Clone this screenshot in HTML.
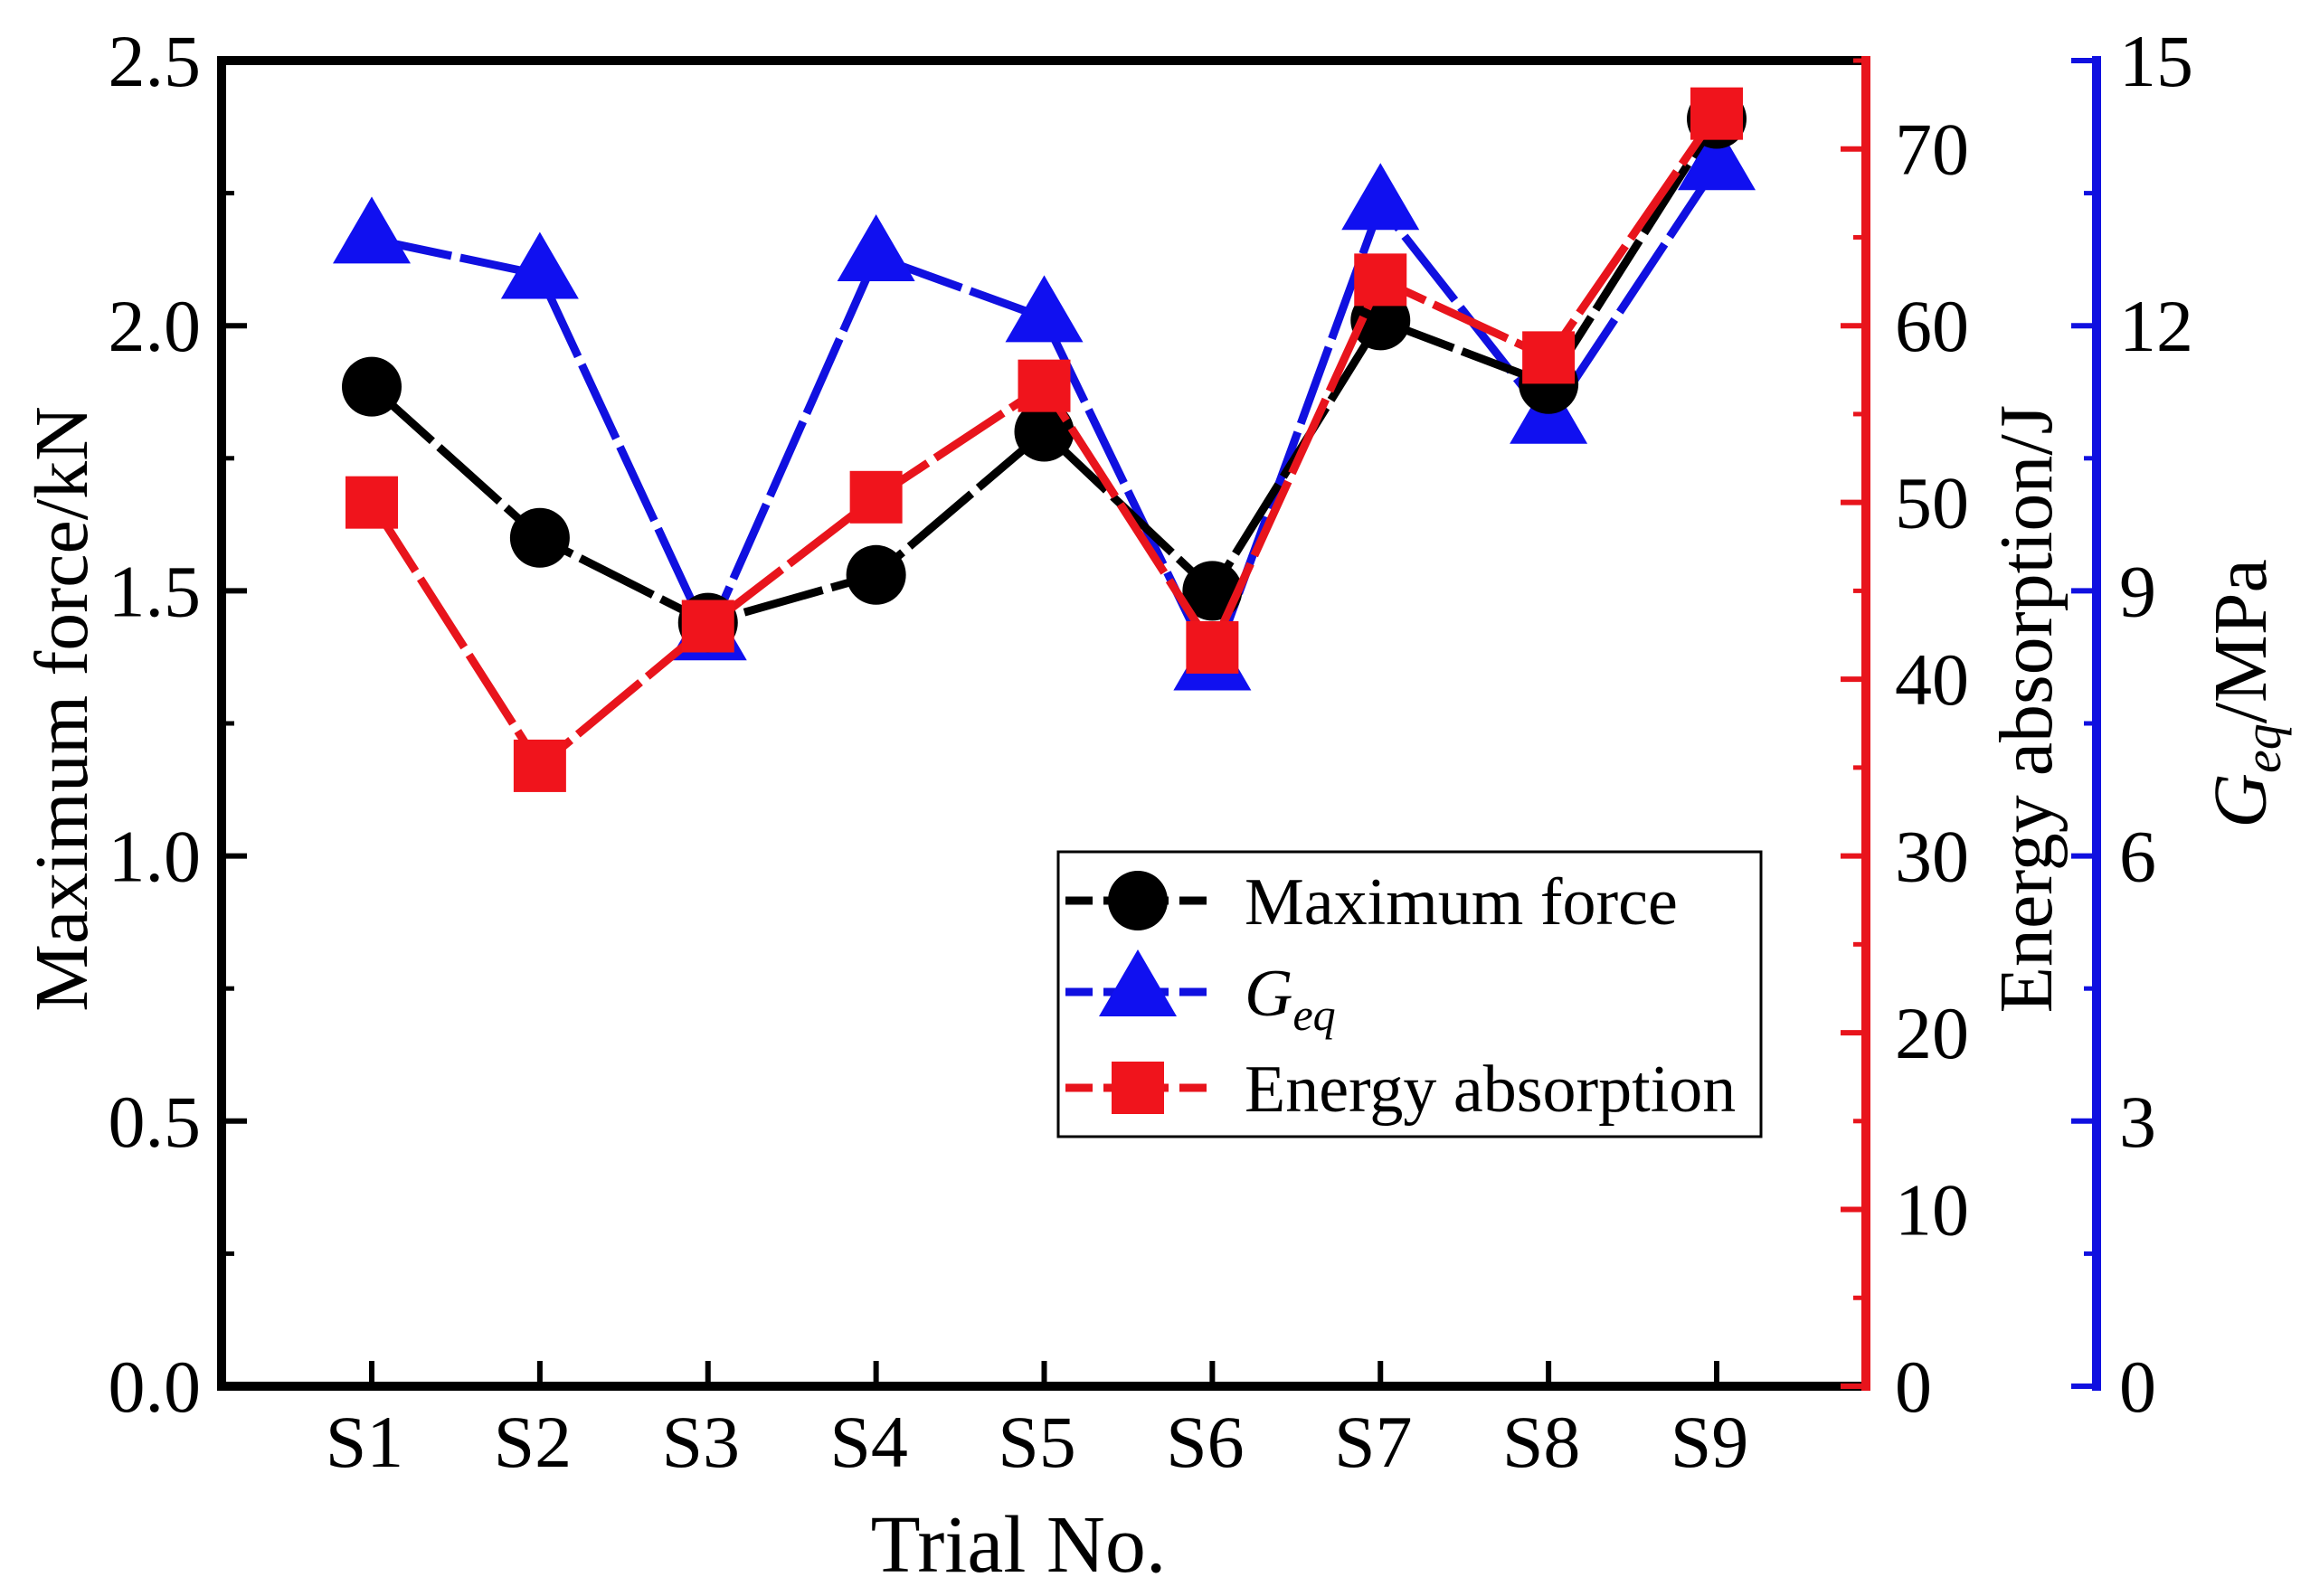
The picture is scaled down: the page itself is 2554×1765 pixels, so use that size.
<!DOCTYPE html>
<html><head><meta charset="utf-8"><style>
html,body{margin:0;padding:0;background:#fff;}
svg{display:block;font-family:"Liberation Serif",serif;}
</style></head><body>
<svg id="chart" width="2554" height="1765" viewBox="0 0 2554 1765" xmlns="http://www.w3.org/2000/svg">
<g id="axes"></g>
<g id="series"></g>
<g id="legend"></g>
</svg>
<script>
const categories = ["S1","S2","S3","S4","S5","S6","S7","S8","S9"];
const maxForce = [1.885,1.60,1.44,1.53,1.80,1.50,2.01,1.89,2.39];
const energy = [50.0,35.1,43.0,50.3,56.6,41.8,62.6,58.2,72.0];
const geq = [12.98,12.58,8.49,12.78,12.09,8.15,13.36,10.94,13.81];
const leftTicks = [0,0.5,1.0,1.5,2.0,2.5];
const redTicks = [0,10,20,30,40,50,60,70];
const blueTicks = [0,3,6,9,12,15];

const NS="http://www.w3.org/2000/svg";
const L=245,R=2063,T=67,B=1533,BX=2318;
const xS=i=>411+i*(1898-411)/8;
const yL=v=>B-(v/2.5)*(B-T);
const yR=v=>B-(v/75)*(B-T);
const yB=v=>B-(v/15)*(B-T);
function mk(parent,tag,attrs,text){const e=document.createElementNS(NS,tag);for(const k in attrs)e.setAttribute(k,attrs[k]);if(text!==undefined)e.textContent=text;parent.appendChild(e);return e;}
const ax=document.getElementById('axes');
let e;
e=mk(ax,'line',{x1:L,y1:T,x2:R,y2:T,stroke:'#000','stroke-width':10});

e=mk(ax,'line',{x1:L,y1:T-5,x2:L,y2:B+5,stroke:'#000','stroke-width':10});

e=mk(ax,'line',{x1:L-5,y1:B,x2:R,y2:B,stroke:'#000','stroke-width':10});

e=mk(ax,'line',{x1:R,y1:T-5,x2:R,y2:B+5,stroke:'#e8141c','stroke-width':10});

e=mk(ax,'line',{x1:BX,y1:T-5,x2:BX,y2:B+5,stroke:'#1010e0','stroke-width':10});

leftTicks.forEach((v,i)=>{
  let y=yL(v);
  mk(ax,'line',{x1:L,y1:y,x2:L+28,y2:y,stroke:'#000','stroke-width':6});
  if(i<leftTicks.length-1){let ym=yL(v+0.25);mk(ax,'line',{x1:L,y1:ym,x2:L+14,y2:ym,stroke:'#000','stroke-width':5});}
  let t=mk(ax,'text',{x:222,y:y+28,'font-size':82,'text-anchor':'end'},v.toFixed(1));
  
});
redTicks.forEach(v=>{
  let y=yR(v);
  mk(ax,'line',{x1:R-28,y1:y,x2:R,y2:y,stroke:'#e8141c','stroke-width':6});
  let ym=yR(v+5);mk(ax,'line',{x1:R-14,y1:ym,x2:R,y2:ym,stroke:'#e8141c','stroke-width':5});
  let t=mk(ax,'text',{x:2095,y:y+28,'font-size':82},String(v));
  
});
blueTicks.forEach((v,i)=>{
  let y=yB(v);
  mk(ax,'line',{x1:BX-28,y1:y,x2:BX,y2:y,stroke:'#1010e0','stroke-width':6});
  if(i<blueTicks.length-1){let ym=yB(v+1.5);mk(ax,'line',{x1:BX-14,y1:ym,x2:BX,y2:ym,stroke:'#1010e0','stroke-width':5});}
  let t=mk(ax,'text',{x:2343,y:y+28,'font-size':82},String(v));
  
});
categories.forEach((c,i)=>{
  let x=xS(i);
  mk(ax,'line',{x1:x,y1:B,x2:x,y2:B-28,stroke:'#000','stroke-width':6});
  let t=mk(ax,'text',{x:x-8,y:1622,'font-size':82,'text-anchor':'middle'},c);
  
});
e=mk(ax,'text',{x:1126,y:1738,'font-size':90,'text-anchor':'middle'},'Trial No.');

e=mk(ax,'text',{x:0,y:0,'font-size':84,'text-anchor':'middle',transform:'translate(96,784) rotate(-90)'},'Maximum force/kN');

e=mk(ax,'text',{x:0,y:0,'font-size':84,'text-anchor':'middle',transform:'translate(2268,784) rotate(-90)'},'Energy absorption/J');

e=mk(ax,'text',{x:0,y:0,'font-size':84,'text-anchor':'middle',transform:'translate(2505,767) rotate(-90)'});

e.innerHTML='<tspan font-style="italic">G</tspan><tspan font-style="italic" font-size="58" dy="16">eq</tspan><tspan dy="-16">/MPa</tspan>';

const S=document.getElementById('series');
function circle(g,x,y){return mk(g,'circle',{cx:x,cy:y,r:33,fill:'#000'});}
function square(g,x,y){return mk(g,'rect',{x:x-29,y:y-29,width:58,height:58,fill:'#f0141c'});}
function tri(g,x,y){return mk(g,'polygon',{points:`${x},${y-47} ${x-43},${y+27} ${x+43},${y+27}`,fill:'#1010f0'});}
function drawSeries(name,vals,yf,color,marker){
  const g=mk(S,'g',{});
  
  
  const pts=vals.map((v,i)=>xS(i)+','+yf(v)).join(' ');
  const pl=mk(g,'polyline',{points:pts,fill:'none',stroke:color,'stroke-width':9,'stroke-dasharray':'90 10'});
  
  
  vals.forEach((v,i)=>{
    const m=marker(g,xS(i),yf(v));
    
    
  });
}
drawSeries('geq',geq,yB,'#1010e0',tri);
drawSeries('max-force',maxForce,yL,'#000',circle);
drawSeries('energy',energy,yR,'#e8141c',square);

const lg=document.getElementById('legend');
e=mk(lg,'rect',{x:1170,y:942,width:777,height:315,fill:'#fff',stroke:'#000','stroke-width':3});

const entries=[['Maximum force','#000',circle,996],['Geq','#1010e0',tri,1097],['Energy absorption','#e8141c',square,1203]];
entries.forEach(([lab,col,m,y])=>{
  const g=mk(lg,'g',{});
  
  
  mk(g,'line',{x1:1178,y1:y,x2:1339,y2:y,stroke:col,'stroke-width':9,'stroke-dasharray':'30 12'});
  m(g,1258,y);
  const t=mk(g,'text',{x:1376,y:y+26,'font-size':74});
  if(lab==='Geq'){t.innerHTML='<tspan font-style="italic">G</tspan><tspan font-style="italic" font-size="50" dy="16">eq</tspan>';}
  else t.textContent=lab;
});
</script>
</body></html>
